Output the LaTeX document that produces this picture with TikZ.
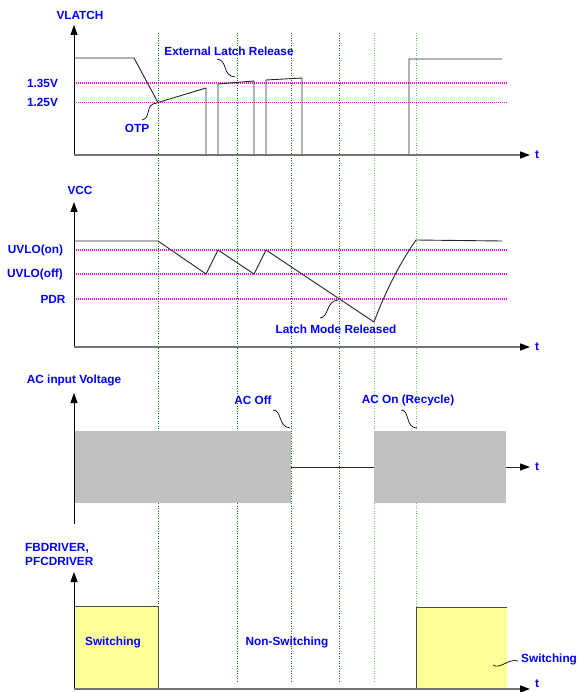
\documentclass[tikz,border=0pt]{standalone}
\usepackage{fontspec}
\setmainfont{Liberation Sans}
\definecolor{LblBlue}{HTML}{0000FF}
\definecolor{LvlPink}{HTML}{FF00FF}
\definecolor{GuideGreen}{HTML}{008000}
\definecolor{GuideLight}{HTML}{70C070}
\definecolor{ACGray}{HTML}{C0C0C0}
\definecolor{DrvYellow}{HTML}{FFFF99}
\usetikzlibrary{arrows.meta, positioning}

\begin{document}
\begin{tikzpicture}[x=1pt, y=-1pt, >={Triangle[length=10pt, width=7pt, color=black]},
  lbl/.style={text=LblBlue, font=\fontsize{11.8}{14}\selectfont\bfseries, inner sep=0pt},
  sig/.style={line width=0.9pt, black!85, line join=round},
  xaxis/.style={->, line width=1.6pt, black!55},
  yaxis/.style={->, line width=0.9pt, black},
  lvl/.style={LvlPink, line width=1.1pt, dash pattern=on 1pt off 1pt},
  vguide/.style={GuideGreen, line width=0.6pt, dash pattern=on 1pt off 1.5pt},
  squig/.style={line width=0.7pt, black}]
  \useasboundingbox (0,0) rectangle (577,692);

  % Time markers
  \foreach \gx in {158,237,291,339}
    \draw[vguide] (\gx,33) -- (\gx,682);
  \foreach \gx in {374,416}
    \draw[vguide, GuideLight, line width=1pt] (\gx,33) -- (\gx,682);

  % VLATCH
  \node[lbl] (vlatch) at (80,15) {VLATCH};
  \coordinate (o1) at (74,155);
  \coordinate (y1) at (74,25);
  \coordinate (x1) at (530,155);
  \draw[lvl] (74,83) -- (507,83);
  \draw[lvl] (74,102.5) -- (507,102.5);
  \node[lbl] (v135) at (42.5,83) {1.35V};
  \node[lbl] (v125) at (42.5,102.5) {1.25V};
  \draw[sig] (74,58) -- (134,58) -- (158,102.5) -- (206,88) -- (206,155)
             (218,155) -- (218,84) -- (254,81) -- (254,155)
             (266,155) -- (266,80) -- (302,78) -- (302,155)
             (409,155) -- (409,59) -- (502,59);
  \draw[yaxis] (o1) -- (y1);
  \draw[xaxis] (o1) -- (x1);
  \node[lbl] (t1) at (537,155) {t};
  \node[lbl] (elr) at (229,51) {External Latch Release};
  \coordinate (elr-a) at (217,59);
  \coordinate (elr-b) at (235,77);
  \draw[squig] (elr-a) .. controls (228,60) and (222,76) .. (elr-b);
  \node[lbl] (otp) at (137,128) {OTP};
  \coordinate (otp-a) at (142,120);
  \coordinate (otp-b) at (157,103);
  \draw[squig] (otp-a) .. controls (152,118) and (144,104) .. (otp-b);

  % VCC
  \node[lbl] (vcc) at (80,190) {VCC};
  \coordinate (o2) at (74,347);
  \coordinate (y2) at (74,202);
  \coordinate (x2) at (530,347);
  \draw[lvl] (74,250) -- (507,250);
  \draw[lvl] (74,274) -- (507,274);
  \draw[lvl] (74,299) -- (507,299);
  \node[lbl] (uvon) at (35.5,250) {UVLO(on)};
  \node[lbl] (uvoff) at (35,274) {UVLO(off)};
  \node[lbl] (pdr) at (53,299) {PDR};
  \draw[sig] (74,241) -- (158,241) -- (206,274) -- (218,250) -- (254,274)
             -- (266,250) -- (374,322) .. controls (386,290) and (400,263) .. (416,240)
             -- (502,241);
  \draw[yaxis] (o2) -- (y2);
  \draw[xaxis] (o2) -- (x2);
  \node[lbl] (t2) at (537,347) {t};
  \node[lbl] (lmr) at (336,329) {Latch Mode Released};
  \coordinate (lmr-a) at (320,318);
  \coordinate (lmr-b) at (338,300);
  \draw[squig] (lmr-a) .. controls (329,317) and (326,301) .. (lmr-b);

  % AC input
  \node[lbl] (acin) at (74,380) {AC input Voltage};
  \fill[ACGray] (74,431) rectangle (291,503);
  \fill[ACGray] (374,431) rectangle (506,503);
  \coordinate (offa) at (291,467);
  \coordinate (ona) at (374,467);
  \coordinate (acend) at (506,467);
  \coordinate (x3) at (530,467);
  \draw[sig] (offa) -- (ona);
  \draw[->, sig] (acend) -- (x3);
  \draw[yaxis] (74,524) -- (74,393);
  \node[lbl] (t3) at (537,467) {t};
  \node[lbl] (acoff) at (253,400) {AC Off};
  \coordinate (acoff-a) at (273,410);
  \coordinate (acoff-b) at (290,428);
  \draw[squig] (acoff-a) .. controls (282,410) and (278,427) .. (acoff-b);
  \node[lbl] (acon) at (408,400) {AC On (Recycle)};
  \coordinate (acon-a) at (401,410);
  \coordinate (acon-b) at (417,428);
  \draw[squig] (acon-a) .. controls (410,410) and (405,428) .. (acon-b);

  % FBDRIVER, PFCDRIVER
  \node[lbl, anchor=west, align=left] (drv) at (25,554) {FBDRIVER,\\PFCDRIVER};
  \coordinate (o4) at (74,689);
  \coordinate (y4) at (74,572);
  \coordinate (x4) at (530,689);
  \filldraw[fill=DrvYellow, draw=black!70, line width=0.8pt] (74,606) rectangle (158,689);
  \fill[DrvYellow] (416,607) rectangle (507,689);
  \draw[black!70, line width=0.8pt] (416,689) -- (416,607) -- (507,607);
  \draw[yaxis] (o4) -- (y4);
  \draw[xaxis] (o4) -- (x4);
  \node[lbl] (t4) at (537,684) {t};
  \node[lbl] (sw1) at (113,642) {Switching};
  \node[lbl] (nsw) at (287,642) {Non-Switching};
  \node[lbl, anchor=west] (sw2) at (521,659) {Switching};
  \coordinate (sw2-a) at (493,665);
  \coordinate (sw2-b) at (518,661);
  \draw[squig] (sw2-a) .. controls (500,670) and (508,658) .. (sw2-b);
\end{tikzpicture}
\end{document}
